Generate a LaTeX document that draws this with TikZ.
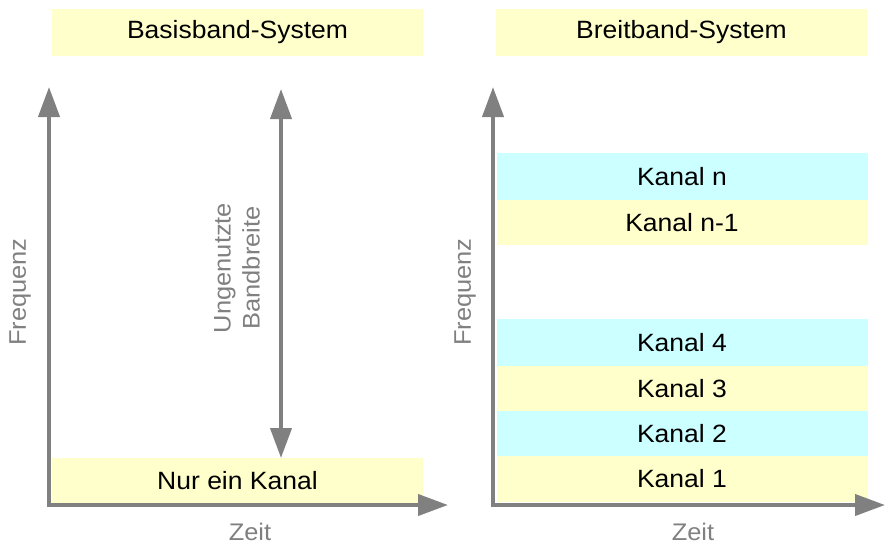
\documentclass[tikz,border=0pt]{standalone}
\usepackage{fontspec}
\setmainfont[FakeStretch=1.06]{Liberation Sans}
\usetikzlibrary{arrows.meta}
\definecolor{pyellow}{HTML}{FFFFCC}
\definecolor{pcyan}{HTML}{CCFFFF}
\definecolor{axisgray}{HTML}{808080}
\begin{document}
\begin{tikzpicture}[x=1pt,y=-1pt,
  band/.style={minimum width=371pt, minimum height=46pt, inner sep=0pt, font=\fontsize{25}{29}\selectfont, text=black},
  ybox/.style={band, fill=pyellow},
  cbox/.style={band, fill=pcyan},
  axis/.style={draw=axisgray, line width=4pt, line cap=rect, -{Triangle[length=30pt,width=21pt]}},
  dblarrow/.style={draw=axisgray, line width=4pt, {Triangle[length=30pt,width=21pt]}-{Triangle[length=30pt,width=21pt]}},
  lbl/.style={text=axisgray, font=\fontsize{24}{29}\selectfont, inner sep=0pt}]
\useasboundingbox (0,0) rectangle (885,546);

% Left panel
\node[ybox, minimum height=47pt] (t1) at (237.5,32.5) {Basisband-System};
\node[ybox, minimum height=45pt] (nur) at (237.5,480.5) {Nur ein Kanal};
\coordinate (o1) at (49,505);
\coordinate (y1) at (49,87);
\coordinate (x1) at (448,505);
\draw[axis] (o1) -- (y1);
\draw[axis] (o1) -- (x1);
\coordinate (ua) at (281,89);
\coordinate (ub) at (281,458);
\draw[dblarrow] (ua) -- (ub);
\node[lbl, rotate=90, align=center] (ungen) at (237,268) {Ungenutzte\\Bandbreite};
\node[lbl, rotate=90] (f1) at (20,292) {Frequenz};
\node[lbl] (z1) at (250,532) {Zeit};

% Right panel
\node[ybox, minimum height=47pt] (t2) at (681.5,32.5) {Breitband-System};
\node[cbox, minimum height=47pt] (kn) at (682,176.5) {Kanal n};
\node[ybox, minimum height=45pt] (kn1) at (682,222.5) {Kanal n-1};
\node[cbox, minimum height=47pt] (k4) at (682,342.5) {Kanal 4};
\node[ybox, minimum height=45pt] (k3) at (682,388.5) {Kanal 3};
\node[cbox, minimum height=45pt] (k2) at (682,433.5) {Kanal 2};
\node[ybox, minimum height=46pt] (k1) at (682,479) {Kanal 1};
\coordinate (o2) at (493,505);
\coordinate (y2) at (493,87);
\coordinate (x2) at (885,505);
\draw[axis] (o2) -- (y2);
\draw[axis] (o2) -- (x2);
\node[lbl, rotate=90] (f2) at (465,292) {Frequenz};
\node[lbl] (z2) at (693,532) {Zeit};
\end{tikzpicture}
\end{document}
